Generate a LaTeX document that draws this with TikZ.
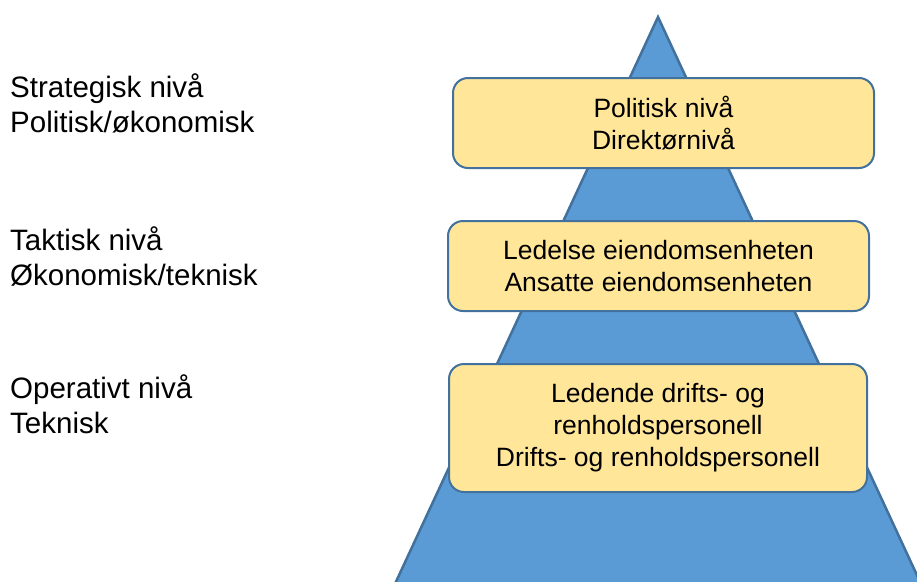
\documentclass[tikz,border=0pt]{standalone}
\usepackage{fontspec}
\setmainfont{Liberation Sans}
\definecolor{pyrblue}{HTML}{5B9BD5}
\definecolor{pyredge}{HTML}{41719C}
\definecolor{lvlfill}{HTML}{FFE699}

\begin{document}
\begin{tikzpicture}[x=1pt, y=-1pt,
    lvlbox/.style={draw=pyredge, line width=2pt, fill=lvlfill, rounded corners=15pt,
        align=center, inner sep=0pt, font=\fontsize{26.5}{32}\selectfont},
    sidetext/.style={anchor=base west, inner sep=0pt, font=\fontsize{29.5}{35}\selectfont}]
    \useasboundingbox (0, 0) rectangle (917, 581);
    \clip (0, 0) rectangle (917, 581);

    % pyramid
    \coordinate (apex) at (658, 17);
    \coordinate (baseL) at (394, 586);
    \coordinate (baseR) at (922, 586);
    \draw[pyredge, line width=2.5pt, fill=pyrblue] (apex) -- (baseL) -- (baseR) -- cycle;

    % levels in the pyramid
    \node[lvlbox, minimum width=421pt, minimum height=90pt] (polit) at (663.5, 123) {Politisk nivå\\Direktørnivå};
    \node[lvlbox, minimum width=421pt, minimum height=90pt] (ledelse) at (658.5, 266) {Ledelse eiendomsenheten\\Ansatte eiendomsenheten};
    \node[lvlbox, minimum width=418pt, minimum height=128pt] (drift) at (658, 428) {Ledende drifts- og\\renholdspersonell\\Drifts- og renholdspersonell};

    % labels on the left
    \node[sidetext] (strat1) at (10, 97) {Strategisk nivå};
    \node[sidetext] (strat2) at (10, 132) {Politisk/økonomisk};
    \node[sidetext] (takt1) at (10, 250) {Taktisk nivå};
    \node[sidetext] (takt2) at (10, 285) {Økonomisk/teknisk};
    \node[sidetext] (oper1) at (10, 398) {Operativt nivå};
    \node[sidetext] (oper2) at (10, 433) {Teknisk};
\end{tikzpicture}
\end{document}
